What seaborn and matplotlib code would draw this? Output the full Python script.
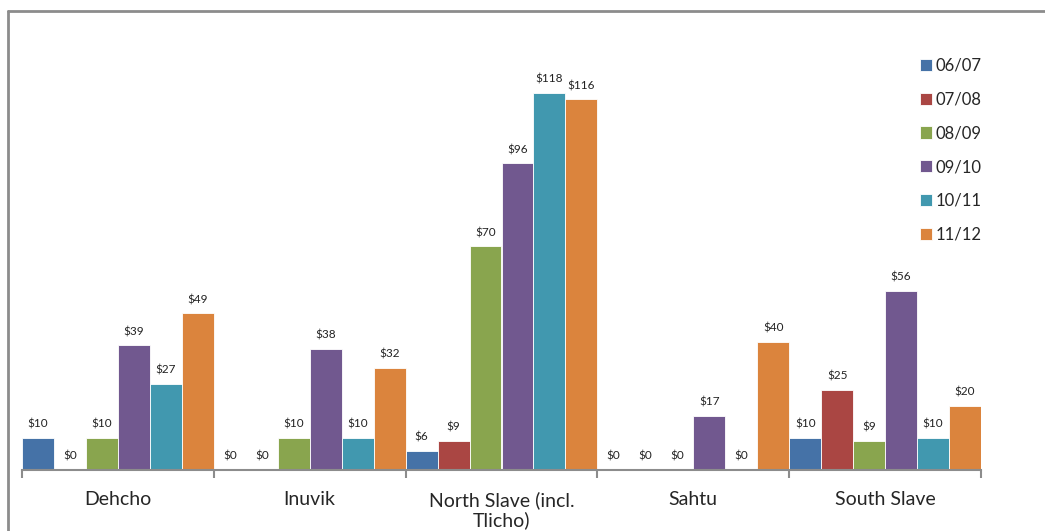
import pandas as pd
import seaborn as sns
import matplotlib.pyplot as plt
from matplotlib.lines import Line2D

regions = ['Dehcho', 'Inuvik', 'North Slave (incl.\nTlicho)', 'Sahtu', 'South Slave']
years = ['06/07', '07/08', '08/09', '09/10', '10/11', '11/12']
v0607 = [10, 0, 6, 0, 10]
v0708 = [0, 0, 9, 0, 25]
v0809 = [10, 10, 70, 0, 9]
v0910 = [39, 38, 96, 17, 56]
v1011 = [27, 10, 118, 0, 10]
v1112 = [49, 32, 116, 40, 20]
colors = ['#4572A7', '#AA4643', '#89A54E', '#71588F', '#4198AF', '#DB843D']

rows = []
for yr, vals in zip(years, [v0607, v0708, v0809, v0910, v1011, v1112]):
    for reg, v in zip(regions, vals):
        rows.append({'region': reg, 'year': yr, 'value': v})
df = pd.DataFrame(rows)

sns.set_style('white')
plt.rcParams['font.family'] = ['Lato', 'DejaVu Sans']

fig = plt.figure(figsize=(10.45, 5.31), dpi=100)
ax = fig.add_axes([22 / 1045, 1 - 470 / 531, (981 - 22) / 1045, 460 / 531])
sns.barplot(data=df, x='region', y='value', hue='year', order=regions,
            hue_order=years, palette=colors, width=1.0, gap=0,
            edgecolor='white', linewidth=0.6, saturation=1, ax=ax)
for cont in ax.containers:
    ax.bar_label(cont, labels=['$%d' % v for v in cont.datavalues],
                 padding=6, fontsize=8.5, color='#222222')

ax.set_xlim(-0.5, 4.5)
ax.set_ylim(0, 144)
ax.set_xlabel('')
ax.set_ylabel('')
ax.set_yticks([])
for s in ['top', 'right', 'left']:
    ax.spines[s].set_visible(False)
ax.spines['bottom'].set_color('#8c8c8c')
ax.spines['bottom'].set_linewidth(1.5)
ax.set_xticks(range(len(regions)))
ax.set_xticklabels(regions, fontsize=14, linespacing=1.15)
ax.tick_params(axis='x', which='major', length=0, pad=15)
ax.set_xticks([i - 0.5 for i in range(len(regions) + 1)], minor=True)
ax.tick_params(axis='x', which='minor', length=6, width=1.5, color='#8c8c8c',
               direction='out', bottom=True)

leg = ax.legend(loc='upper left', bbox_to_anchor=(913 / 1045, 1 - 51 / 531),
                bbox_transform=fig.transFigure, frameon=False, fontsize=12,
                handlelength=0.75, handleheight=0.75, handletextpad=0.2,
                labelspacing=1.07, borderaxespad=0)

# outer chart border (clipped on right and bottom in the reference)
x0 = 7.5 / 1045
y0 = 1 - 10.5 / 531
fig.add_artist(Line2D([x0, x0], [-0.1, y0], transform=fig.transFigure,
                      color='#8c8c8c', lw=2.0))
fig.add_artist(Line2D([x0, 1.1], [y0, y0], transform=fig.transFigure,
                      color='#8c8c8c', lw=2.0))

fig.savefig('out.png', dpi=100)
